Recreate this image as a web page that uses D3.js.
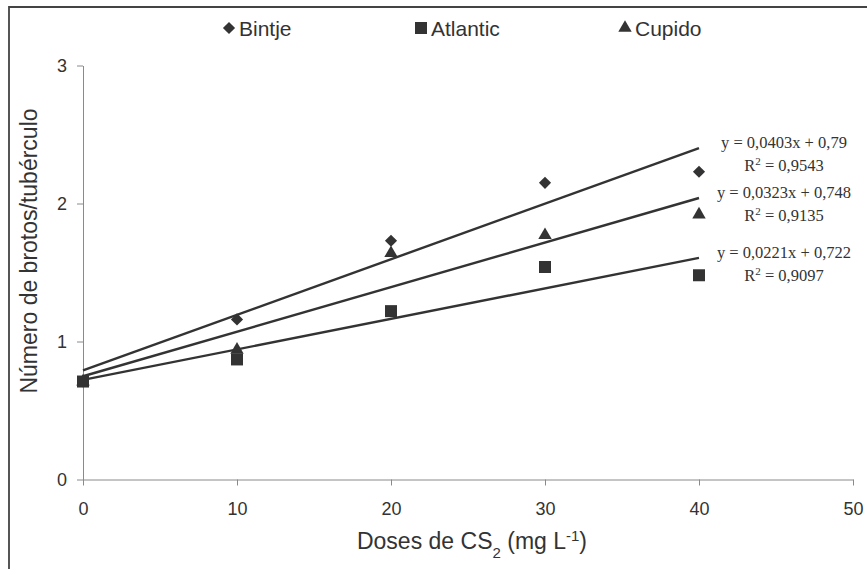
<!DOCTYPE html>
<html>
<head>
<meta charset="utf-8">
<script src="https://cdn.jsdelivr.net/npm/d3@7"></script>
<style>
  body { margin: 0; background: #fff; }
  text { font-family: "Liberation Sans", Arial, sans-serif; fill: #333; }
</style>
</head>
<body>
<script>
// values
const doses = [0, 10, 20, 30, 40];
const bintje = [0.71, 1.16, 1.73, 2.15, 2.23];
const atlantic = [0.71, 0.87, 1.22, 1.54, 1.48];
const cupido = [0.71, 0.94, 1.64, 1.77, 1.92];

const names = ["Bintje", "Atlantic", "Cupido"];
const slopes = [0.0403, 0.0221, 0.0323];
const intercepts = [0.79, 0.722, 0.748];
const eqLabels = ["y = 0,0403x + 0,79", "y = 0,0221x + 0,722", "y = 0,0323x + 0,748"];
const r2Labels = ["0,9543", "0,9097", "0,9135"];

const xTicks = [0, 10, 20, 30, 40, 50];
const yTicks = [0, 1, 2, 3];

const W = 867, H = 569;
const ink = "#333";

const svg = d3.select("body").append("svg")
    .attr("width", W)
    .attr("height", H);

// frame (cropped at right/bottom)
svg.append("path")
    .attr("d", `M9,${H} V7 H${W}`)
    .attr("fill", "none")
    .attr("stroke", "#444")
    .attr("stroke-width", 1.8);

const x = d3.scaleLinear().domain([0, 50]).range([83, 853]);
const y = d3.scaleLinear().domain([0, 3]).range([479.5, 65.5]);

const yAxis = svg.append("g")
    .attr("transform", `translate(${x(0)},0)`)
    .call(d3.axisLeft(y).tickValues(yTicks).tickFormat(d3.format("d"))
        .tickSize(6).tickSizeOuter(0).tickPadding(10));

const xAxis = svg.append("g")
    .attr("transform", `translate(0,${y(0)})`)
    .call(d3.axisBottom(x).tickValues(xTicks).tickFormat(d3.format("d"))
        .tickSize(6).tickSizeOuter(0).tickPadding(17));

[xAxis, yAxis].forEach(g => {
    g.select(".domain").attr("stroke", "#8a8a8a");
    g.selectAll(".tick line").attr("stroke", "#8a8a8a");
    g.selectAll(".tick text")
        .attr("fill", ink)
        .style("font-size", "18px")
        .style("font-family", "\"Liberation Sans\", Arial, sans-serif");
});

// axis titles
const xt = svg.append("text")
    .attr("x", 472)
    .attr("y", 549)
    .attr("text-anchor", "middle")
    .style("font-size", "23px");
xt.append("tspan").text("Doses de CS");
xt.append("tspan").attr("baseline-shift", "sub").style("font-size", "15px").text("2");
xt.append("tspan").text(" (mg L");
xt.append("tspan").attr("baseline-shift", "super").style("font-size", "15px").text("-1");
xt.append("tspan").text(")");

svg.append("text")
    .attr("transform", "translate(37,251) rotate(-90)")
    .attr("text-anchor", "middle")
    .style("font-size", "23px")
    .text("Número de brotos/tubérculo");

// regression lines
names.forEach((n, i) => {
    const f = v => intercepts[i] + slopes[i] * v;
    svg.append("line")
        .attr("x1", x(0)).attr("y1", y(f(0)))
        .attr("x2", x(40)).attr("y2", y(f(40)))
        .attr("stroke", ink)
        .attr("stroke-width", 2.4);

    const cx = 784, by = y(f(40));
    svg.append("text")
        .attr("x", cx).attr("y", by)
        .attr("text-anchor", "middle")
        .style("font-family", "\"Liberation Serif\", \"Times New Roman\", serif")
        .style("font-size", "16.5px")
        .text(eqLabels[i]);
    const r = svg.append("text")
        .attr("x", cx).attr("y", by + 23)
        .attr("text-anchor", "middle")
        .style("font-family", "\"Liberation Serif\", \"Times New Roman\", serif")
        .style("font-size", "16.5px");
    r.append("tspan").text("R");
    r.append("tspan").attr("baseline-shift", "super").style("font-size", "11px").text("2");
    r.append("tspan").text(" = " + r2Labels[i]);
});

// markers: diamonds, triangles, squares (squares on top)
const diamond = d3.symbol().type(d3.symbolSquare).size(74);
const square = d3.symbol().type(d3.symbolSquare).size(144);
const triangle = d3.symbol().type(d3.symbolTriangle).size(78);

function drawPoints(vals, sym, rot) {
    svg.append("g").selectAll("path")
        .data(vals)
        .join("path")
        .attr("d", sym)
        .attr("transform", (d, i) => `translate(${x(doses[i])},${y(d)}) rotate(${rot})`)
        .attr("fill", ink);
}
drawPoints(bintje, diamond, 45);
drawPoints(cupido, triangle, 0);
drawPoints(atlantic, square, 0);

// legend
const legendItems = [
    { name: names[0], sym: diamond, rot: 45, x: 229 },
    { name: names[1], sym: square, rot: 0, x: 421 },
    { name: names[2], sym: triangle, rot: 0, x: 625 }
];
const lg = svg.append("g").selectAll("g")
    .data(legendItems)
    .join("g")
    .attr("transform", d => `translate(${d.x},28)`);
lg.append("path")
    .attr("d", d => d.sym())
    .attr("transform", d => `rotate(${d.rot})`)
    .attr("fill", ink);
lg.append("text")
    .attr("x", 10)
    .attr("y", 7.5)
    .style("font-size", "21px")
    .text(d => d.name);
</script>
</body>
</html>
